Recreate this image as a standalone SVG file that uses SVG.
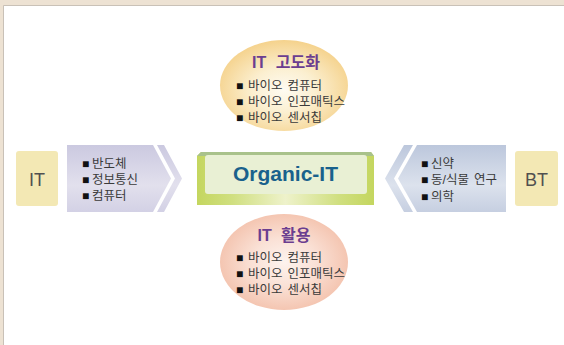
<svg xmlns="http://www.w3.org/2000/svg" width="564" height="345" viewBox="0 0 564 345">
  <defs>
    <radialGradient id="gTop" cx="0.5" cy="0.55" r="0.55">
      <stop offset="0" stop-color="#fefbf2"/>
      <stop offset="0.45" stop-color="#fbefd0"/>
      <stop offset="1" stop-color="#f5d28c"/>
    </radialGradient>
    <radialGradient id="gBot" cx="0.5" cy="0.5" r="0.55">
      <stop offset="0" stop-color="#fdf3ee"/>
      <stop offset="0.45" stop-color="#fae1d6"/>
      <stop offset="1" stop-color="#f3c0aa"/>
    </radialGradient>
    <linearGradient id="gLeft" x1="0" y1="0" x2="0" y2="1">
      <stop offset="0" stop-color="#cbc9e0"/>
      <stop offset="0.6" stop-color="#e2e0ed"/>
      <stop offset="1" stop-color="#d3d1e5"/>
    </linearGradient>
    <linearGradient id="gRight" x1="0" y1="0" x2="0" y2="1">
      <stop offset="0" stop-color="#bcc7dc"/>
      <stop offset="0.6" stop-color="#dce2ed"/>
      <stop offset="1" stop-color="#c6cfe1"/>
    </linearGradient>
    <linearGradient id="gFrame" x1="0" y1="0" x2="1" y2="0">
      <stop offset="0" stop-color="#c4d65f"/>
      <stop offset="0.2" stop-color="#d0df80"/>
      <stop offset="0.5" stop-color="#eef2cb"/>
      <stop offset="0.8" stop-color="#d0df80"/>
      <stop offset="1" stop-color="#c4d65f"/>
    </linearGradient>
    <style>
      text { font-family: "Liberation Sans", "Noto Sans CJK KR", sans-serif; }
      .title { font-size: 16px; font-weight: bold; fill: #6b3e90; text-anchor: middle; word-spacing: 5px; }
      .item { font-size: 12.5px; fill: #3a3a3a; word-spacing: 1.5px; }
      .b { font-size: 12px; fill: #111; }
      .tag { fill: #f3e8b4; }
      .tagText { font-size: 18px; fill: #505050; text-anchor: middle; }
      .main { font-size: 21px; font-weight: bold; fill: #19618c; text-anchor: middle; }
    </style>
  </defs>

  <!-- page frame -->
  <rect x="0" y="0" width="564" height="345" fill="#ede2d3"/>
  <rect x="4" y="6" width="560" height="339" fill="#ffffff"/>
  <line x1="3.5" y1="5.5" x2="564" y2="5.5" stroke="#c9c1b7" stroke-width="1"/>
  <line x1="3.5" y1="5.5" x2="3.5" y2="345" stroke="#c9c1b7" stroke-width="1"/>

  <!-- IT tag -->
  <g id="it">
    <rect class="tag" x="16" y="151" width="42" height="55" rx="3"/>
    <text class="tagText" x="37" y="186">IT</text>
  </g>

  <!-- BT tag -->
  <g id="bt">
    <rect class="tag" x="515" y="151" width="43" height="55" rx="3"/>
    <text class="tagText" x="536.5" y="186">BT</text>
  </g>

  <!-- connectors: chevrons feeding into the core -->
  <g id="connectors">
    <g id="arrow-it">
      <path d="M67,145 L153,145 L171,178.5 L153,212 L67,212 Z" fill="url(#gLeft)"/>
      <path d="M157,145 L164,145 L182,178.5 L164,212 L157,212 L175,178.5 Z" fill="url(#gLeft)"/>
    </g>
    <g id="arrow-bt">
      <path d="M506,145 L417,145 L398,178.5 L417,212 L506,212 Z" fill="url(#gRight)"/>
      <path d="M413,145 L404,145 L385,178.5 L404,212 L413,212 L394,178.5 Z" fill="url(#gRight)"/>
    </g>
  </g>

  <!-- IT list -->
  <g id="it-list">
    <text class="item" y="168"><tspan class="b" x="82">■</tspan><tspan x="92">반도체</tspan></text>
    <text class="item" y="184"><tspan class="b" x="82">■</tspan><tspan x="92">정보통신</tspan></text>
    <text class="item" y="200"><tspan class="b" x="82">■</tspan><tspan x="92">컴퓨터</tspan></text>
  </g>

  <!-- BT list -->
  <g id="bt-list">
    <text class="item" y="168"><tspan class="b" x="421">■</tspan><tspan x="431">신약</tspan></text>
    <text class="item" y="184"><tspan class="b" x="421">■</tspan><tspan x="431">동/식물 연구</tspan></text>
    <text class="item" y="201"><tspan class="b" x="421">■</tspan><tspan x="431">의학</tspan></text>
  </g>

  <!-- core box -->
  <g id="organic-it">
    <path d="M197,156 L201,152 L371,152 L374,156 L374,205 L197,205 Z" fill="url(#gFrame)"/>
    <path d="M197,156 L201,152 L371,152 L374,156 Z" fill="#a9c28b"/>
    <rect x="205" y="155" width="162" height="39" rx="3" fill="#e9f0d4"/>
    <text class="main" x="285.5" y="181">Organic-IT</text>
  </g>

  <!-- IT advancement -->
  <g id="it-advance">
    <ellipse cx="284" cy="85.5" rx="64" ry="45.5" fill="url(#gTop)"/>
    <text class="title" x="286" y="68">IT 고도화</text>
    <text class="item" y="89.5"><tspan class="b" x="236">■</tspan><tspan x="248">바이오 컴퓨터</tspan></text>
    <text class="item" y="106"><tspan class="b" x="236">■</tspan><tspan x="248">바이오 인포매틱스</tspan></text>
    <text class="item" y="122"><tspan class="b" x="236">■</tspan><tspan x="248">바이오 센서칩</tspan></text>
  </g>

  <!-- IT application -->
  <g id="it-use">
    <ellipse cx="284" cy="262" rx="64" ry="48" fill="url(#gBot)"/>
    <text class="title" x="284" y="241">IT 활용</text>
    <text class="item" y="262"><tspan class="b" x="236">■</tspan><tspan x="248">바이오 컴퓨터</tspan></text>
    <text class="item" y="278"><tspan class="b" x="236">■</tspan><tspan x="248">바이오 인포매틱스</tspan></text>
    <text class="item" y="294"><tspan class="b" x="236">■</tspan><tspan x="248">바이오 센서칩</tspan></text>
  </g>
</svg>
